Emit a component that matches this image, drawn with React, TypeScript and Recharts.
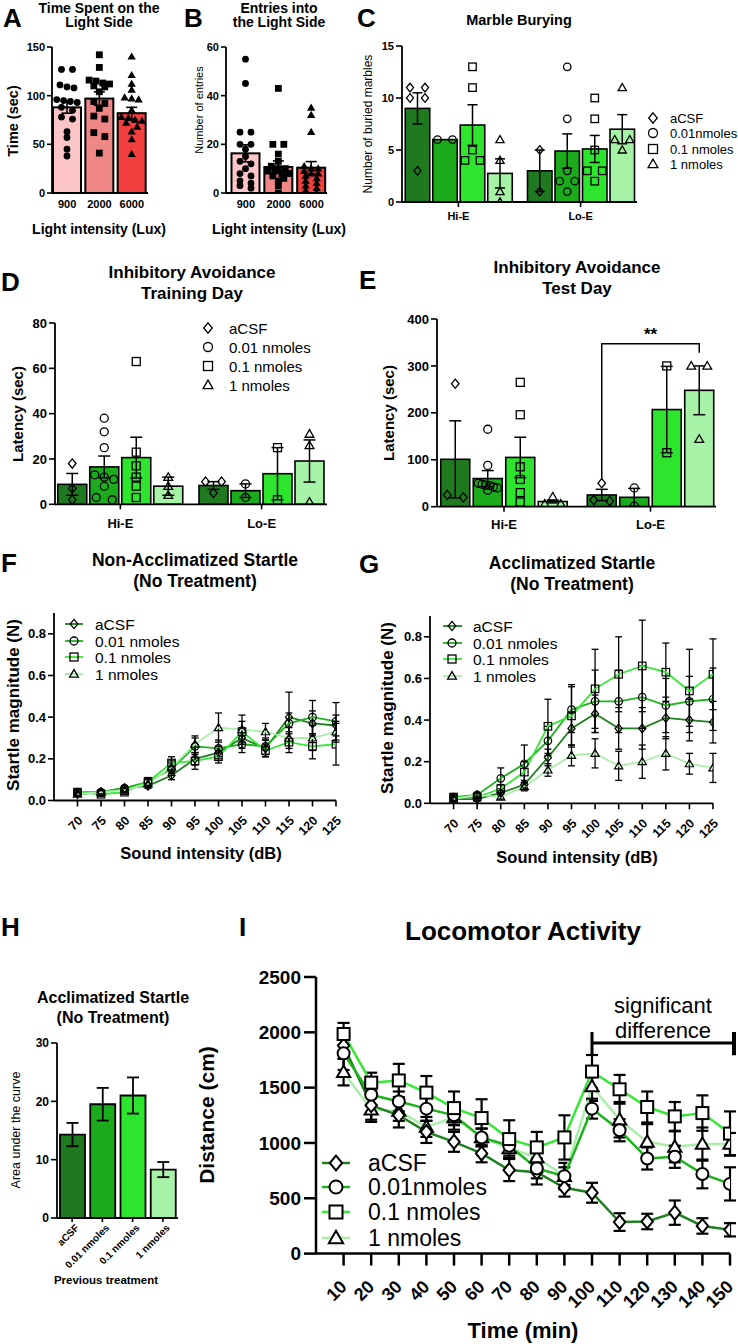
import React from 'react'
import { ComposedChart, Bar, Line, XAxis, YAxis, ErrorBar, Cell } from 'recharts'

const FONT = '"Liberation Sans", Arial, sans-serif'

// shared series
const doses = ['aCSF', '0.01 nmoles', '0.1 nmoles', '1 nmoles']
const doseMarks = ['diamond', 'circle', 'square', 'triangle']
const barGreens = ['#1f7a1f', '#1cab1c', '#2ee52e', '#a6f2a6']
const lineGreens = ['#1f801f', '#1db31d', '#36e836', '#aaeeaa']

// A / B
const luxLevels = ['900', '2000', '6000']
const luxColors = ['#fdc5c5', '#f08787', '#f43f3f']
const luxMarks = ['circle', 'square', 'triangle']

const timeLightMean = [88, 97, 82]
const timeLightSem = [6, 7, 6]
const timeLightPts = [
  [127, 127, 111, 109, 108, 96, 95, 94, 93, 88, 85, 78, 76, 63, 57, 45, 38],
  [142, 129, 116, 115, 113, 112, 110, 109, 104, 94, 92, 87, 79, 76, 62, 58, 41],
  [140, 121, 112, 106, 98, 97, 96, 85, 78, 77, 75, 74, 72, 68, 63, 55, 40],
]

const entriesMean = [16.3, 10.7, 10.4]
const entriesSem = [3.5, 2.5, 2.5]
const entriesPts = [
  [55, 45, 25, 25, 20, 20, 18, 15, 13, 12, 10, 8, 7, 5, 4, 3, 2],
  [43, 20, 20, 16, 13, 11, 10, 10, 9, 9, 8, 8, 7, 6, 5, 3, 0],
  [35, 32, 25, 11, 10, 10, 9, 8, 8, 7, 6, 5, 4, 3, 2, 1, 0],
]

// C / D / E  (per dose, [Hi-E, Lo-E])
const exposure = ['Hi-E', 'Lo-E']

const marbleMean = [[9, 3], [6, 4.9], [7.4, 5.1], [2.75, 7]]
const marbleSem = [[1.5, 2], [0, 1.65], [1.95, 1.3], [1.4, 1.4]]
const marblePts = [
  [[11, 11, 10, 10, 3], [5, 1]],
  [[6, 6], [13, 8, 3, 2, 2, 1]],
  [[13, 11, 5, 4, 4], [10, 8, 5, 3, 3, 2]],
  [[6, 4, 1, 0], [11, 6, 6, 5]],
]

const trainMean = [[8.8, 8.3], [16.5, 6], [20.6, 13.5], [8, 19.1]]
const trainSem = [[4.8, 1.7], [4.8, 3], [9, 11.5], [4, 9.3]]
const trainPts = [
  [[18, 7, 2], [10, 10, 5]],
  [[38, 32, 25, 13, 12, 11, 8, 3, 2], [9, 3]],
  [[63, 23, 17, 12, 8, 3], [25, 2]],
  [[12, 8, 4], [31, 26, 1]],
]

const testMean = [[101, 25], [60, 20], [105, 207], [11, 248]]
const testSem = [[82, 12], [17, 19], [43, 92], [3, 52]]
const testPts = [
  [[262, 25, 20], [50, 14, 12]],
  [[165, 88, 50, 48, 46, 45, 42, 40, 35], [40, 1]],
  [[265, 196, 85, 58, 30, 10], [300, 115]],
  [[21, 6, 6], [300, 300, 144]],
]

// F / G
const dB = [70, 75, 80, 85, 90, 95, 100, 105, 110, 115, 120, 125]
const naMean = [
  [0.03, 0.04, 0.06, 0.07, 0.12, 0.2, 0.23, 0.3, 0.25, 0.4, 0.37, 0.36],
  [0.04, 0.04, 0.06, 0.09, 0.15, 0.26, 0.25, 0.27, 0.26, 0.37, 0.4, 0.38],
  [0.04, 0.03, 0.04, 0.09, 0.18, 0.19, 0.21, 0.33, 0.24, 0.28, 0.26, 0.27],
  [0.03, 0.04, 0.05, 0.08, 0.16, 0.27, 0.35, 0.34, 0.33, 0.3, 0.3, 0.33],
]
const naSem = [
  [0.01, 0.01, 0.01, 0.01, 0.02, 0.03, 0.03, 0.05, 0.04, 0.12, 0.06, 0.05],
  [0.01, 0.01, 0.01, 0.02, 0.03, 0.04, 0.04, 0.04, 0.04, 0.05, 0.08, 0.09],
  [0.01, 0.01, 0.01, 0.02, 0.03, 0.04, 0.03, 0.05, 0.03, 0.05, 0.06, 0.1],
  [0.01, 0.01, 0.01, 0.02, 0.03, 0.04, 0.07, 0.07, 0.04, 0.05, 0.06, 0.05],
]
const acMean = [
  [0.02, 0.02, 0.05, 0.09, 0.22, 0.36, 0.43, 0.36, 0.36, 0.41, 0.4, 0.39],
  [0.03, 0.04, 0.12, 0.19, 0.3, 0.45, 0.49, 0.49, 0.51, 0.47, 0.49, 0.5],
  [0.03, 0.03, 0.07, 0.15, 0.37, 0.42, 0.55, 0.62, 0.66, 0.63, 0.54, 0.62],
  [0.02, 0.04, 0.03, 0.08, 0.16, 0.23, 0.24, 0.18, 0.2, 0.24, 0.19, 0.17],
]
const acSem = [
  [0.01, 0.01, 0.01, 0.02, 0.04, 0.08, 0.09, 0.1, 0.1, 0.1, 0.1, 0.1],
  [0.01, 0.01, 0.05, 0.09, 0.07, 0.11, 0.15, 0.15, 0.15, 0.13, 0.12, 0.15],
  [0.01, 0.01, 0.02, 0.05, 0.13, 0.15, 0.19, 0.18, 0.22, 0.14, 0.2, 0.17],
  [0.01, 0.01, 0.01, 0.02, 0.03, 0.05, 0.07, 0.07, 0.08, 0.08, 0.05, 0.07],
]

// H
const aucMean = [14.3, 19.5, 21, 8.3]
const aucSem = [2, 2.8, 3.1, 1.3]

// I
const locoTime = [10, 20, 30, 40, 50, 60, 70, 80, 90, 100, 110, 120, 130, 140, 150]
const locoMean = [
  [1880, 1340, 1250, 1100, 1010, 905, 755, 735, 595, 550, 285, 290, 370, 250, 215],
  [1810, 1435, 1375, 1310, 1250, 1050, 975, 770, 700, 1310, 1115, 860, 875, 720, 630],
  [1985, 1545, 1565, 1455, 1315, 1225, 1035, 960, 1050, 1645, 1485, 1325, 1240, 1270, 1085],
  [1640, 1300, 1290, 1145, 1230, 1050, 950, 870, 700, 1510, 1210, 1010, 965, 990, 990],
]
const locoSem = [
  [120, 130, 110, 100, 90, 80, 100, 110, 80, 90, 80, 70, 110, 70, 60],
  [150, 100, 90, 110, 90, 80, 90, 90, 80, 90, 100, 100, 100, 130, 150],
  [100, 90, 150, 150, 150, 170, 170, 140, 200, 150, 130, 140, 130, 160, 200],
  [120, 110, 90, 90, 110, 80, 90, 120, 120, 130, 160, 160, 140, 150, 100],
]

type Plot = [number, number, number, number]

function frame(p: Plot, yw: number, xh: number, mt = 10, mr = 8) {
  return {
    style: { position: 'absolute' as const, left: p[0] - yw, top: p[1] - mt },
    width: p[2] - p[0] + yw + mr,
    height: p[3] - p[1] + mt + xh,
    margin: { top: mt, right: mr, bottom: 0, left: 0 },
  }
}

const ink = (w: number) => ({ stroke: '#000', strokeWidth: w })
const tk = (fs: number) => ({ fill: '#000', fontSize: fs, fontWeight: 700, fontFamily: FONT })

function rotTick(fs: number, dx: number, dy: number) {
  return (p: any) => (
    <text
      key={p.index}
      x={p.x + dx}
      y={p.y + dy}
      transform={`rotate(-45 ${p.x + dx} ${p.y + dy})`}
      textAnchor="end"
      dominantBaseline="central"
      fontSize={fs}
      fontWeight={700}
      fontFamily={FONT}
      fill="#000"
    >
      {p.payload.value}
    </text>
  )
}

function Mark({ kind, cx, cy, s, fill = 'none', sw = 1.3 }: any) {
  const h = s / 2
  const st = { fill, stroke: '#000', strokeWidth: sw }
  if (kind === 'circle') return <circle cx={cx} cy={cy} r={h} {...st} />
  if (kind === 'square') return <rect x={cx - h} y={cy - h} width={s} height={s} {...st} />
  if (kind === 'diamond')
    return <polygon points={`${cx},${cy - h * 1.15} ${cx + h * 0.95},${cy} ${cx},${cy + h * 1.15} ${cx - h * 0.95},${cy}`} {...st} />
  return <polygon points={`${cx},${cy - h * 1.1} ${cx + h * 1.1},${cy + h * 0.8} ${cx - h * 1.1},${cy + h * 0.8}`} {...st} />
}

// spread points of one column into rows, GraphPad style
function swarm(ys: number[], size: number, maxHalf: number) {
  const s = [...ys].sort((a, b) => a - b)
  const rows: number[][] = []
  s.forEach((py) => {
    const r = rows[rows.length - 1]
    if (r && py - r[0] < size * 0.85) r.push(py)
    else rows.push([py])
  })
  const out: { dx: number; y: number }[] = []
  rows.forEach((r) => {
    const n = r.length
    const step = n > 1 ? Math.min(n === 2 ? size * 2 : size + 1.5, (2 * maxHalf) / (n - 1)) : 0
    r.forEach((py, i) => out.push({ dx: (i - (n - 1) / 2) * step, y: py }))
  })
  return out
}

function dotBar(means: number[], pts: number[][], color: (i: number) => string, kind: (i: number) => string, filled: boolean, size: number, sw: number) {
  return (p: any) => {
    const { x, y, width, height, index } = p
    const m = means[index]
    const base = y + height
    const k = m > 0 ? height / m : 0
    const dots = swarm(pts[index].map((v) => base - v * k), size, Math.max(0, width / 2 - size / 2 - 1))
    return (
      <g>
        <rect x={x} y={y} width={width} height={height} fill={color(index)} stroke="#000" strokeWidth={sw} />
        {dots.map((d, i) => (
          <Mark key={i} kind={kind(index)} cx={x + width / 2 + d.dx} cy={d.y} s={size} fill={filled ? '#000' : 'none'} />
        ))}
      </g>
    )
  }
}

function LuxChart({ plot, yw, means, sems, pts, yMax, yTicks, pad }: any) {
  const f = frame(plot, yw, 30)
  const rows = luxLevels.map((g, i) => ({ g, m: means[i], e: sems[i] }))
  return (
    <div style={f.style}>
      <ComposedChart width={f.width} height={f.height} margin={f.margin} data={rows} barSize={28}>
        <XAxis dataKey="g" height={30} tickLine={false} axisLine={ink(1.8)} tick={tk(11)} tickSize={5} tickMargin={2} interval={0} padding={{ left: pad[0], right: pad[1] }} />
        <YAxis type="number" domain={[0, yMax]} ticks={yTicks} interval={0} allowDataOverflow width={yw} tickSize={5} tickMargin={2} tick={tk(11)} tickLine={ink(1.6)} axisLine={ink(1.8)} />
        <Bar dataKey="m" isAnimationActive={false} shape={dotBar(means, pts, (i) => luxColors[i], (i) => luxMarks[i], true, 5.5, 2)}>
          <ErrorBar dataKey="e" width={5.5} stroke="#000" strokeWidth={1.6} />
        </Bar>
      </ComposedChart>
    </div>
  )
}

function DoseBars({ plot, yw, xh, means, sems, pts, yMax, yTicks, pad, size, gap, fs, ptSize, cap, tm }: any) {
  const f = frame(plot, yw, xh)
  const rows = exposure.map((g, gi) => {
    const r: any = { g }
    means.forEach((m: number[], s: number) => {
      r['m' + s] = m[gi]
      r['e' + s] = sems[s][gi]
    })
    return r
  })
  return (
    <div style={f.style}>
      <ComposedChart width={f.width} height={f.height} margin={f.margin} data={rows} barSize={size} barGap={gap}>
        <XAxis dataKey="g" height={xh} tickLine={ink(1.6)} axisLine={ink(1.8)} tick={tk(fs.x)} tickSize={5} tickMargin={tm} interval={0} padding={{ left: pad[0], right: pad[1] }} />
        <YAxis type="number" domain={[0, yMax]} ticks={yTicks} interval={0} allowDataOverflow width={yw} tickSize={6} tickMargin={2} tick={tk(fs.y)} tickLine={ink(1.6)} axisLine={ink(1.8)} />
        {doses.map((d, s) => (
          <Bar key={d} dataKey={'m' + s} isAnimationActive={false} shape={dotBar(means[s], pts[s], () => barGreens[s], () => doseMarks[s], false, ptSize, 1.6)}>
            <ErrorBar dataKey={'e' + s} width={cap} stroke="#000" strokeWidth={1.5} />
          </Bar>
        ))}
      </ComposedChart>
    </div>
  )
}

function barCenter(p: Plot, pad: number[], nG: number, gi: number, nB: number, bi: number, size: number, gap: number) {
  const x0 = p[0] + pad[0]
  const band = (p[2] - pad[1] - x0) / nG
  const off = Math.floor((band - (nB * size + (nB - 1) * gap)) / 2)
  return x0 + gi * band + off + bi * (size + gap) + size / 2
}

function StartleChart({ plot, means, sems }: any) {
  const f = frame(plot, 40, 45)
  const rows = dB.map((x, i) => {
    const r: any = { x }
    means.forEach((m: number[], s: number) => {
      r['m' + s] = m[i]
      r['e' + s] = sems[s][i]
    })
    return r
  })
  return (
    <div style={f.style}>
      <ComposedChart width={f.width} height={f.height} margin={f.margin} data={rows}>
        <XAxis type="number" dataKey="x" domain={[65, 125]} ticks={dB} interval={0} allowDataOverflow height={45} tickSize={6} tickMargin={2} tickLine={ink(1.6)} axisLine={ink(1.8)} tick={rotTick(12.5, 3, 10)} />
        <YAxis type="number" domain={[0, 0.9]} ticks={[0, 0.2, 0.4, 0.6, 0.8]} tickFormatter={(v: number) => v.toFixed(1)} interval={0} allowDataOverflow width={40} tickSize={6} tickMargin={2} tick={tk(13)} tickLine={ink(1.6)} axisLine={ink(1.8)} />
        {[0, 1, 2, 3].map((s) => (
          <Line
            key={s}
            dataKey={'m' + s}
            stroke={lineGreens[s]}
            strokeWidth={1.8}
            isAnimationActive={false}
            dot={(p: any) => <Mark key={p.index} kind={doseMarks[s]} cx={p.cx} cy={p.cy} s={7.5} sw={1.2} />}
          >
            <ErrorBar dataKey={'e' + s} width={3.5} stroke="#000" strokeWidth={1.3} />
          </Line>
        ))}
      </ComposedChart>
    </div>
  )
}

function AucChart() {
  const p: Plot = [57, 1043.3, 178, 1218.3]
  const f = frame(p, 30, 60)
  const rows = doses.map((g, i) => ({ g, m: aucMean[i], e: aucSem[i] }))
  return (
    <div style={f.style}>
      <ComposedChart width={f.width} height={f.height} margin={f.margin} data={rows} barSize={25}>
        <XAxis dataKey="g" height={60} tickLine={ink(1.6)} axisLine={ink(1.8)} tickSize={4} tickMargin={2} interval={0} tick={rotTick(10, 5, 2)} />
        <YAxis type="number" domain={[0, 30]} ticks={[0, 10, 20, 30]} interval={0} allowDataOverflow width={30} tickSize={6} tickMargin={2} tick={tk(12)} tickLine={ink(1.6)} axisLine={ink(1.8)} />
        <Bar dataKey="m" stroke="#000" strokeWidth={1.8} isAnimationActive={false}>
          {aucMean.map((_, i) => (
            <Cell key={i} fill={barGreens[i]} />
          ))}
          <ErrorBar dataKey="e" width={6} stroke="#000" strokeWidth={1.8} />
        </Bar>
      </ComposedChart>
    </div>
  )
}

function LocoChart() {
  const p: Plot = [316, 976.7, 730, 1253.3]
  const f = frame(p, 75, 70)
  const rows = locoTime.map((x, i) => {
    const r: any = { x }
    locoMean.forEach((m, s) => {
      r['m' + s] = m[i]
      r['e' + s] = locoSem[s][i]
    })
    return r
  })
  return (
    <div style={f.style}>
      <ComposedChart width={f.width} height={f.height} margin={f.margin} data={rows}>
        <XAxis type="number" dataKey="x" domain={[0, 150]} ticks={locoTime} interval={0} allowDataOverflow height={70} tickSize={12} tickMargin={2} tickLine={ink(2.5)} axisLine={ink(2.5)} tick={rotTick(18, 0, 16)} />
        <YAxis type="number" domain={[0, 2500]} ticks={[0, 500, 1000, 1500, 2000, 2500]} interval={0} allowDataOverflow width={75} tickSize={12} tickMargin={3} tick={tk(19)} tickLine={ink(2.5)} axisLine={ink(2.5)} />
        {[3, 0, 1, 2].map((s) => (
          <Line
            key={s}
            dataKey={'m' + s}
            stroke={lineGreens[s]}
            strokeWidth={2.5}
            isAnimationActive={false}
            dot={(q: any) => <Mark key={q.index} kind={doseMarks[s]} cx={q.cx} cy={q.cy} s={12} sw={2} fill="#fff" />}
          >
            <ErrorBar dataKey={'e' + s} width={6} stroke="#000" strokeWidth={2.2} />
          </Line>
        ))}
      </ComposedChart>
    </div>
  )
}

const Tx = ({ x, y, fs, w = 700, rot = false, anchor = 'middle', children }: any) => (
  <text
    x={x}
    y={y}
    fontSize={fs}
    fontWeight={w}
    textAnchor={anchor}
    dominantBaseline="central"
    transform={rot ? `rotate(-90 ${x} ${y})` : undefined}
    fontFamily={FONT}
    fill="#000"
  >
    {children}
  </text>
)

function LegendRows({ mx, tx, ys, fs, s, line, lw, labels }: any) {
  return (
    <g>
      {labels.map((lab: string, i: number) => (
        <g key={lab}>
          {line && <line x1={line[0]} x2={line[1]} y1={ys[i]} y2={ys[i]} stroke={lineGreens[i]} strokeWidth={lw} />}
          <Mark kind={doseMarks[i]} cx={mx} cy={ys[i]} s={s} sw={lw > 2 ? 2 : 1.3} fill={line && lw > 2 ? '#fff' : 'none'} />
          <Tx x={tx} y={ys[i]} fs={fs} w={400} anchor="start">
            {lab}
          </Tx>
        </g>
      ))}
    </g>
  )
}

const plotE: Plot = [437, 319, 716, 506.7]
const padE = [-6.25, -7.75]

function Overlay() {
  const yE = (v: number) => plotE[3] - (v / 400) * (plotE[3] - plotE[1])
  const bl = barCenter(plotE, padE, 2, 1, 4, 0, 29, 3.5)
  const br = barCenter(plotE, padE, 2, 1, 4, 3, 29, 3.5)
  const xI = (v: number) => 316 + (v / 150) * 414
  const yI = (v: number) => 1253.3 - (v / 2500) * 276.6
  return (
    <svg width={738} height={1344} style={{ position: 'absolute', left: 0, top: 0, pointerEvents: 'none' }}>
      {/* panel letters */}
      <Tx x={3} y={18} fs={26} anchor="start">A</Tx>
      <Tx x={184} y={18} fs={26} anchor="start">B</Tx>
      <Tx x={357} y={18} fs={26} anchor="start">C</Tx>
      <Tx x={1} y={282} fs={26} anchor="start">D</Tx>
      <Tx x={359} y={280} fs={26} anchor="start">E</Tx>
      <Tx x={1} y={563} fs={26} anchor="start">F</Tx>
      <Tx x={359} y={564} fs={26} anchor="start">G</Tx>
      <Tx x={1} y={927} fs={26} anchor="start">H</Tx>
      <Tx x={239} y={927} fs={26} anchor="start">I</Tx>

      {/* A */}
      <Tx x={99} y={8} fs={14}>Time Spent on the</Tx>
      <Tx x={99} y={22} fs={14}>Light Side</Tx>
      <Tx x={13} y={121} fs={14.5} rot>Time (sec)</Tx>
      <Tx x={99} y={229} fs={14}>Light intensity (Lux)</Tx>

      {/* B */}
      <Tx x={279} y={8} fs={14}>Entries into</Tx>
      <Tx x={279} y={22} fs={14}>the Light Side</Tx>
      <Tx x={199} y={110} fs={11} w={400} rot>Number of entries</Tx>
      <Tx x={279} y={229} fs={14}>Light intensity (Lux)</Tx>

      {/* C */}
      <Tx x={519} y={20} fs={14.5}>Marble Burying</Tx>
      <Tx x={368} y={124} fs={12} w={400} rot>Number of buried marbles</Tx>
      <LegendRows mx={653} tx={670} ys={[118, 133, 149, 164]} fs={13} s={9} lw={1.3} labels={['aCSF', '0.01nmoles', '0.1 nmoles', '1 nmoles']} />

      {/* D */}
      <Tx x={192} y={272} fs={17}>Inhibitory Avoidance</Tx>
      <Tx x={192} y={293} fs={17}>Training Day</Tx>
      <Tx x={17} y={414} fs={15} rot>Latency (sec)</Tx>
      <LegendRows mx={208} tx={229} ys={[328, 347, 366, 385]} fs={15} s={9} lw={1.3} labels={doses} />

      {/* E */}
      <Tx x={577} y={267} fs={17}>Inhibitory Avoidance</Tx>
      <Tx x={577} y={288} fs={17}>Test Day</Tx>
      <Tx x={388} y={413} fs={15} rot>Latency (sec)</Tx>
      <polyline
        points={`${bl},${yE(57)} ${bl},${yE(347)} ${br},${yE(347)} ${br},${yE(328)}`}
        fill="none"
        stroke="#000"
        strokeWidth={1.5}
      />
      <Tx x={(bl + br) / 2} y={yE(347) - 9} fs={17}>**</Tx>

      {/* F */}
      <Tx x={195} y={560} fs={17.5}>Non-Acclimatized Startle</Tx>
      <Tx x={195} y={581} fs={17.5}>(No Treatment)</Tx>
      <Tx x={13} y={705} fs={17} rot>Startle magnitude (N)</Tx>
      <Tx x={201} y={853} fs={16.5}>Sound intensity (dB)</Tx>
      <LegendRows mx={74} tx={95} line={[65, 83]} lw={1.8} ys={[624, 641, 657, 674]} fs={15.5} s={8} labels={doses} />

      {/* G */}
      <Tx x={572} y={563} fs={17.5}>Acclimatized Startle</Tx>
      <Tx x={572} y={584} fs={17.5}>(No Treatment)</Tx>
      <Tx x={387} y={708} fs={17} rot>Startle magnitude (N)</Tx>
      <Tx x={577} y={857} fs={16.5}>Sound intensity (dB)</Tx>
      <LegendRows mx={452} tx={473} line={[443, 462]} lw={1.8} ys={[626, 643, 659, 676]} fs={15.5} s={8} labels={doses} />

      {/* H */}
      <Tx x={113} y={997} fs={16}>Acclimatized Startle</Tx>
      <Tx x={113} y={1017} fs={16}>(No Treatment)</Tx>
      <Tx x={16} y={1130} fs={12.5} w={400} rot>Area under the curve</Tx>
      <Tx x={106} y={1280} fs={11.5}>Previous treatment</Tx>

      {/* I */}
      <Tx x={523} y={931} fs={26}>Locomotor Activity</Tx>
      <Tx x={206} y={1115} fs={21} rot>Distance (cm)</Tx>
      <Tx x={523} y={1330} fs={22}>Time (min)</Tx>
      <Tx x={663} y={1005} fs={22} w={400}>significant</Tx>
      <Tx x={663} y={1030} fs={22} w={400}>difference</Tx>
      <line x1={xI(100)} x2={xI(150) + 4} y1={yI(1900)} y2={yI(1900)} stroke="#000" strokeWidth={3} />
      <line x1={xI(100)} x2={xI(100)} y1={yI(2000)} y2={yI(1790)} stroke="#000" strokeWidth={3} />
      <line x1={xI(150) + 4} x2={xI(150) + 4} y1={yI(2000)} y2={yI(1790)} stroke="#000" strokeWidth={4} />
      <LegendRows mx={336} tx={368} line={[322, 350]} lw={2.5} ys={[1163, 1187, 1212, 1238]} fs={23} s={13} labels={['aCSF', '0.01nmoles', '0.1 nmoles', '1 nmoles']} />
    </svg>
  )
}

export default function App() {
  return (
    <div style={{ position: 'absolute', left: 0, top: 0, width: 738, height: 1344, background: '#fff', overflow: 'hidden', fontFamily: FONT }}>
      <LuxChart plot={[52, 47, 148, 193]} yw={44} means={timeLightMean} sems={timeLightSem} pts={timeLightPts} yMax={150} yTicks={[0, 50, 100, 150]} pad={[-1, 0]} />
      <LuxChart plot={[226, 47, 327, 193]} yw={30} means={entriesMean} sems={entriesSem} pts={entriesPts} yMax={60} yTicks={[0, 20, 40, 60]} pad={[3.5, -1]} />
      <DoseBars plot={[402, 46, 637, 202]} yw={30} xh={28} means={marbleMean} sems={marbleSem} pts={marblePts} yMax={15} yTicks={[0, 5, 10, 15]} pad={[-4.75, -4.75]} size={24.5} gap={3} fs={{ x: 11, y: 11 }} ptSize={7.5} cap={5} tm={5} />
      <DoseBars plot={[55, 322.7, 327, 504]} yw={40} xh={30} means={trainMean} sems={trainSem} pts={trainPts} yMax={80} yTicks={[0, 20, 40, 60, 80]} pad={[-5.25, -5.25]} size={29} gap={3} fs={{ x: 13, y: 13 }} ptSize={8} cap={6} tm={9} />
      <DoseBars plot={plotE} yw={45} xh={30} means={testMean} sems={testSem} pts={testPts} yMax={400} yTicks={[0, 100, 200, 300, 400]} pad={padE} size={29} gap={3.5} fs={{ x: 13, y: 13 }} ptSize={8} cap={6} tm={8.5} />
      <StartleChart plot={[54, 612.5, 336, 800]} means={naMean} sems={naSem} />
      <StartleChart plot={[430, 616, 713, 803.3]} means={acMean} sems={acSem} />
      <AucChart />
      <LocoChart />
      <Overlay />
    </div>
  )
}
